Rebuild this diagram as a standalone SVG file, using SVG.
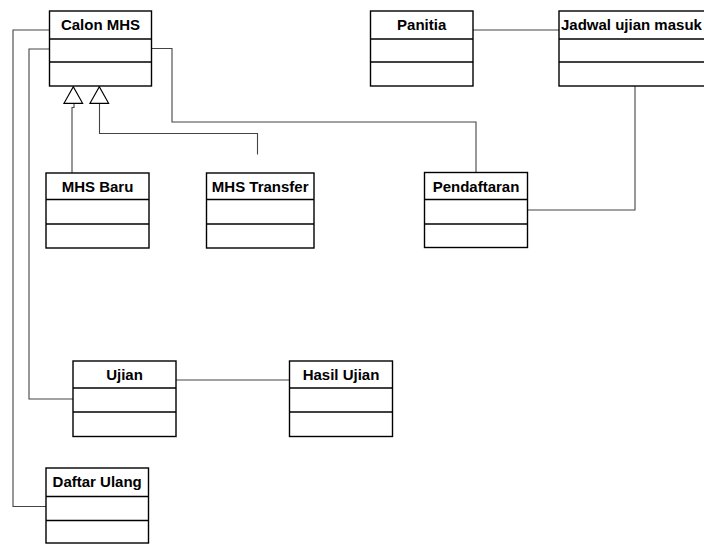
<svg xmlns="http://www.w3.org/2000/svg" width="704" height="544" viewBox="0 0 704 544">
<style>
.box{fill:#fff;stroke:#000;stroke-width:1.4}
.sep{stroke:#000;stroke-width:1.4}
.t{font-family:"Liberation Sans",Arial,Helvetica,sans-serif;font-weight:bold;font-size:15px;fill:#000}
.c{fill:none;stroke:#444;stroke-width:1.1}
.tri{fill:#fff;stroke:#000;stroke-width:1.2}
</style>
<rect width="704" height="544" fill="#fff"/>
<g id="connectors">
<polyline class="c" points="49.5,30 13,30 13,506.5 46,506.5"/>
<polyline class="c" points="49.5,49 29,49 29,399 73,399"/>
<polyline class="c" points="151.5,48.5 172,48.5 172,122 476,122 476,172.5"/>
<polyline class="c" points="473,30 559,30"/>
<polyline class="c" points="635,86 635,210 527.5,210"/>
<polyline class="c" points="176,380 289.5,380"/>
<polyline class="c" points="72,173 72,107.5 74,107.5 74,103.3"/>
<polyline class="c" points="257.5,154.5 257.5,133.5 99.5,133.5 99.5,103.3"/>
<polygon class="tri" points="73.3,86.7 64,103.3 82.6,103.3"/>
<polygon class="tri" points="99.3,86.7 90,103.3 108.6,103.3"/>
</g>
<g id="calon-mhs">
<rect class="box" x="49.5" y="11" width="102" height="75"/>
<line class="sep" x1="49.5" y1="39" x2="151.5" y2="39"/>
<line class="sep" x1="49.5" y1="62" x2="151.5" y2="62"/>
<text class="t" x="100.5" y="29.5" text-anchor="middle">Calon MHS</text>
</g>
<g id="panitia">
<rect class="box" x="370.5" y="11" width="102.5" height="75"/>
<line class="sep" x1="370.5" y1="39" x2="473" y2="39"/>
<line class="sep" x1="370.5" y1="62" x2="473" y2="62"/>
<text class="t" x="421.7" y="29.5" text-anchor="middle">Panitia</text>
</g>
<g id="jadwal">
<rect class="box" x="559" y="11" width="170" height="75"/>
<line class="sep" x1="559" y1="39" x2="729" y2="39"/>
<line class="sep" x1="559" y1="62" x2="729" y2="62"/>
<text class="t" x="561" y="29.5">Jadwal ujian masuk</text>
</g>
<g id="mhs-baru">
<rect class="box" x="46" y="173" width="103" height="75"/>
<line class="sep" x1="46" y1="199.5" x2="149" y2="199.5"/>
<line class="sep" x1="46" y1="224" x2="149" y2="224"/>
<text class="t" x="97.5" y="191.5" text-anchor="middle">MHS Baru</text>
</g>
<g id="mhs-transfer">
<rect class="box" x="206.5" y="173" width="107.5" height="75"/>
<line class="sep" x1="206.5" y1="199.5" x2="314" y2="199.5"/>
<line class="sep" x1="206.5" y1="224" x2="314" y2="224"/>
<text class="t" x="260.2" y="191.5" text-anchor="middle">MHS Transfer</text>
</g>
<g id="pendaftaran">
<rect class="box" x="424.5" y="172.5" width="103" height="75"/>
<line class="sep" x1="424.5" y1="199.5" x2="527.5" y2="199.5"/>
<line class="sep" x1="424.5" y1="224" x2="527.5" y2="224"/>
<text class="t" x="476" y="191.5" text-anchor="middle">Pendaftaran</text>
</g>
<g id="ujian">
<rect class="box" x="73" y="361" width="103" height="75.5"/>
<line class="sep" x1="73" y1="388" x2="176" y2="388"/>
<line class="sep" x1="73" y1="412" x2="176" y2="412"/>
<text class="t" x="124.5" y="379.5" text-anchor="middle">Ujian</text>
</g>
<g id="hasil-ujian">
<rect class="box" x="289.5" y="361" width="103" height="75.5"/>
<line class="sep" x1="289.5" y1="388" x2="392.5" y2="388"/>
<line class="sep" x1="289.5" y1="412" x2="392.5" y2="412"/>
<text class="t" x="341" y="379.5" text-anchor="middle">Hasil Ujian</text>
</g>
<g id="daftar-ulang">
<rect class="box" x="46" y="468" width="102.5" height="75"/>
<line class="sep" x1="46" y1="496.5" x2="148.5" y2="496.5"/>
<line class="sep" x1="46" y1="520.5" x2="148.5" y2="520.5"/>
<text class="t" x="97.2" y="487" text-anchor="middle">Daftar Ulang</text>
</g>
</svg>
